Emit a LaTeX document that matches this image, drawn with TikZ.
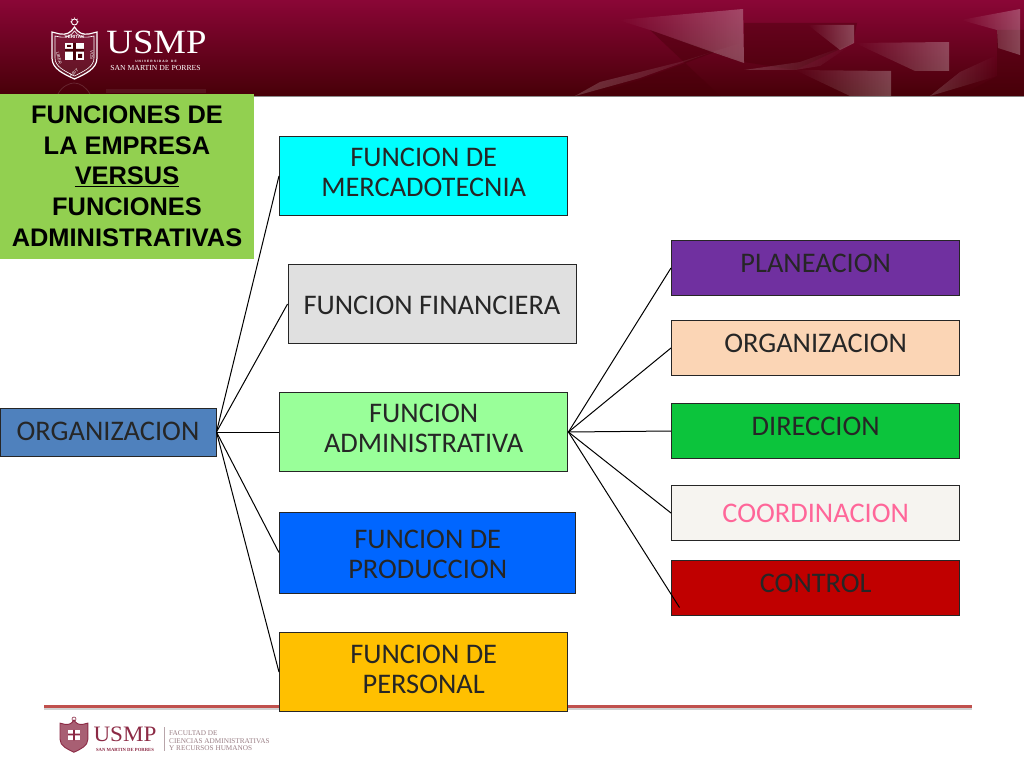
\documentclass[tikz,border=0pt]{standalone}
\usepackage{fontspec}
\setmainfont{Carlito}
\newfontfamily\arialf{Liberation Sans}
\newfontfamily\timesf{Liberation Serif}
\usetikzlibrary{fadings,shadings}
\definecolor{hdtop}{HTML}{8A0636}
\definecolor{hdbot}{HTML}{470008}
\definecolor{logored}{HTML}{8C2A45}
\definecolor{footgrey}{HTML}{9A7F85}
\newcommand{\lift}[2]{\raisebox{#1pt}[0pt][0pt]{\begin{tabular}{@{}c@{}}#2\end{tabular}}}
\newcommand{\shieldpath}{(0,5) -- (8,7) .. controls (14,8) and (19,6) .. (22.5,0) .. controls (26,6) and (31,8) .. (37,7) -- (45,5) -- (45,31) .. controls (45,42) and (33,47) .. (22.5,52) .. controls (12,47) and (0,42) .. (0,31) -- cycle}
\tikzset{
  x=1pt,y=-1pt,
  boxbase/.style={draw=black!85,line width=0.95pt,inner sep=0pt,font=\fontsize{28.4}{30.3}\selectfont,text=black!85},
  funcbox/.style={boxbase,minimum width=288.5,minimum height=79.5},
  rbox/.style={boxbase,minimum width=288.5,minimum height=55.5},
  link/.style={draw=black,line width=1pt},
  logotext/.style={inner sep=0pt,text=white},
  foottext/.style={inner sep=0pt,text=footgrey,anchor=west,font=\timesf\fontsize{7.25}{8}\selectfont},
}
\begin{document}
\begin{tikzpicture}
\useasboundingbox (0,0) rectangle (1024,768);
\fill[white] (0,0) rectangle (1024,768);
% header band
\shade[top color=hdtop,bottom color=hdbot] (0,0) rectangle (1024,96);
\fill[black!45] (0,96) rectangle (1024,97);
% header shards
\fill[hdbot,opacity=.4] (650,30) -- (743,62) -- (715,52) -- (640,80) -- (590,96) -- (720,96) -- cycle;
\fill[hdbot,opacity=.4] (744,23) -- (857,23) -- (853,43) -- (795,70) -- (744,62) -- cycle;
\fill[hdbot,opacity=.4] (997,30) -- (1024,30) -- (1024,96) -- (960,96) -- (997,76) -- cycle;
\fill[white,opacity=.27,path fading=west] (618,20) -- (743,9) -- (744,63) -- (712,52) -- (650,30) -- cycle;
\fill[white,opacity=.2,path fading=east] (575,96) -- (640,78) -- (712,52) -- (744,63) -- (744,42) -- (680,62) -- (600,82) -- cycle;
\fill[white,opacity=.27,path fading=west] (808,25) -- (854,25) -- (854,43) -- (840,50) -- cycle;
\fill[white,opacity=.17,path fading=east] (744,70) -- (800,62) -- (854,43) -- (820,66) -- (795,70) -- cycle;
\fill[white,opacity=.27,path fading=west] (855,43) -- (949,42) -- (949,71) -- (915,71) -- cycle;
\fill[white,opacity=.26,path fading=west] (795,70) -- (891,71) -- (891,96) -- (850,96) -- cycle;
\fill[white,opacity=.27,path fading=west] (961,20) -- (1020,9) -- (1020,55) -- (998,48) -- (997,30) -- cycle;
\fill[white,opacity=.17,path fading=east] (930,96) -- (997,76) -- (997,55) -- (960,72) -- cycle;
% header logo
\begin{scope}[shift={(52,27)}]
  \draw[white,line width=1.2pt,fill=white,fill opacity=.08] \shieldpath;
  \draw[white,line width=.6pt] (3,9) -- (8,10) .. controls (14,11) and (19,9) .. (22.5,4) .. controls (26,9) and (31,11) .. (37,10) -- (42,9) -- (42,31) .. controls (42,40) and (32,44) .. (22.5,49) .. controls (13,44) and (3,40) .. (3,31) -- cycle;
  \fill[white] (13,16) rectangle (32,33);
  \fill[hdbot] (21.2,16) rectangle (23.8,33) (13,22) rectangle (32,24.6);
  \fill[hdbot] (15,18) rectangle (19,20) (26,27) rectangle (30,31);
\end{scope}
\draw[white,line width=.9pt] (74.5,22) circle (3);
\draw[white,line width=.5pt] (74.5,17.5) -- (74.5,19) (70,22) -- (71.5,22) (79,22) -- (77.5,22) (71.3,18.8) -- (72.4,19.9) (77.7,18.8) -- (76.6,19.9);
\node[logotext,font=\arialf\bfseries\fontsize{4.6}{5}\selectfont] (veritas) at (74.5,37) {VERITAS};
\node[logotext,font=\arialf\fontsize{4.4}{5}\selectfont,rotate=-78] (liber) at (59,58) {LIBER};
\node[logotext,font=\arialf\fontsize{4.4}{5}\selectfont,rotate=35] (abit) at (74,73) {ABIT};
\node[logotext,font=\arialf\fontsize{4.4}{5}\selectfont,rotate=-90] (vos) at (92,55) {VOS};
\node[logotext,font=\timesf\fontsize{34}{34}\selectfont,xscale=1.08] (usmp) at (156.5,42.5) {USMP};
\node[logotext,font=\arialf\bfseries\fontsize{3.2}{3.4}\selectfont] (univ) at (156,61) {U\,\,N\,\,I\,\,V\,\,E\,\,R\,\,S\,\,I\,\,D\,\,A\,\,D\quad D\,\,E};
\node[logotext,font=\timesf\fontsize{7.7}{8}\selectfont] (sanm) at (155.5,68) {SAN MARTIN DE PORRES};
% faint reflection of the logo
\draw[white,opacity=.14,line width=.8pt] (58,94) .. controls (62,86) and (70,83) .. (74,83) .. controls (80,83) and (86,87) .. (90,94);
\fill[white,opacity=.07] (106,89) rectangle (206,93);
% title
\node[fill={rgb,255:red,146;green,208;blue,80},minimum width=254,minimum height=165,inner sep=0pt,font=\arialf\bfseries\fontsize{25.4}{30.6}\selectfont,text=black] (title) at (127,176.5) {\lift{-8.5}{FUNCIONES DE\\LA EMPRESA\\\underline{VERSUS}\\FUNCIONES\\ADMINISTRATIVAS}};
% footer rule
\fill[black!18] (44,707) rectangle (972,710);
\fill[fill={rgb,255:red,192;green,80;blue,77}] (44,704.5) rectangle (972,708);
% boxes
\node[boxbase,fill={rgb,255:red,79;green,129;blue,189},minimum width=216,minimum height=48] (org) at (108,432) {\lift{-9}{ORGANIZACION}};
\node[funcbox,fill={rgb,255:red,0;green,255;blue,255}] (merc) at (423.7,176) {\lift{-5.5}{FUNCION DE\\MERCADOTECNIA}};
\node[funcbox,fill={rgb,255:red,224;green,224;blue,224},minimum width=288] (fin) at (432,304) {\lift{-10.5}{FUNCION FINANCIERA}};
\node[funcbox,fill={rgb,255:red,153;green,255;blue,153}] (adm) at (423.7,432) {\lift{-6}{FUNCION\\ADMINISTRATIVA}};
\node[funcbox,fill={rgb,255:red,0;green,102;blue,255},minimum width=296.5,minimum height=81] (prod) at (427.7,552.5) {\lift{-11}{FUNCION DE\\PRODUCCION}};
\node[funcbox,fill={rgb,255:red,255;green,192;blue,0}] (pers) at (423.7,672) {\lift{-6.5}{FUNCION DE\\PERSONAL}};
\node[rbox,fill={rgb,255:red,112;green,48;blue,160}] (plan) at (815.7,268) {\lift{-4.5}{PLANEACION}};
\node[rbox,fill={rgb,255:red,251;green,213;blue,181}] (orga) at (815.7,348) {\lift{-4.5}{ORGANIZACION}};
\node[rbox,fill={rgb,255:red,12;green,196;blue,60}] (dir) at (815.7,431) {\lift{-4.5}{DIRECCION}};
\node[rbox,fill={rgb,255:red,246;green,244;blue,240},text={rgb,255:red,255;green,102;blue,153}] (coord) at (815.7,513) {\lift{-9.5}{COORDINACION}};
\node[rbox,fill={rgb,255:red,192;green,0;blue,0}] (ctrl) at (815.7,588) {\lift{-4.5}{CONTROL}};
\coordinate (ctrlend) at (679.5,607.5);
% connectors
\draw[link] (org.east) -- (merc.west);
\draw[link] (org.east) -- (fin.west);
\draw[link] (org.east) -- (adm.west);
\draw[link] (org.east) -- (prod.west);
\draw[link] (org.east) -- (pers.west);
\draw[link] (adm.east) -- (plan.west);
\draw[link] (adm.east) -- (orga.west);
\draw[link] (adm.east) -- (dir.west);
\draw[link] (adm.east) -- (coord.west);
\draw[link] (adm.east) -- (ctrlend);
% footer logo
\begin{scope}[shift={(60,720)},scale=.62]
  \draw[logored,line width=.9pt,fill=logored,fill opacity=.75] \shieldpath;
  \fill[white] (13,16) rectangle (32,33);
  \fill[logored] (21.2,16) rectangle (23.8,33) (13,22) rectangle (32,24.6);
\end{scope}
\draw[logored,line width=.6pt] (74,719) circle (2);
\node[inner sep=0pt,text=logored,font=\timesf\fontsize{22}{22}\selectfont,xscale=1.05] (fusmp) at (125,734) {USMP};
\node[inner sep=0pt,text=logored,font=\timesf\bfseries\fontsize{4.7}{5}\selectfont] (fsan) at (125,749.5) {SAN MARTIN DE PORRES};
\fill[footgrey!70] (164,727) rectangle (164.8,751);
\node[foottext] (fac1) at (169,733.5) {FACULTAD DE};
\node[foottext] (fac2) at (169,741) {CIENCIAS ADMINISTRATIVAS};
\node[foottext] (fac3) at (169,748.5) {Y RECURSOS HUMANOS};
\end{tikzpicture}
\end{document}
